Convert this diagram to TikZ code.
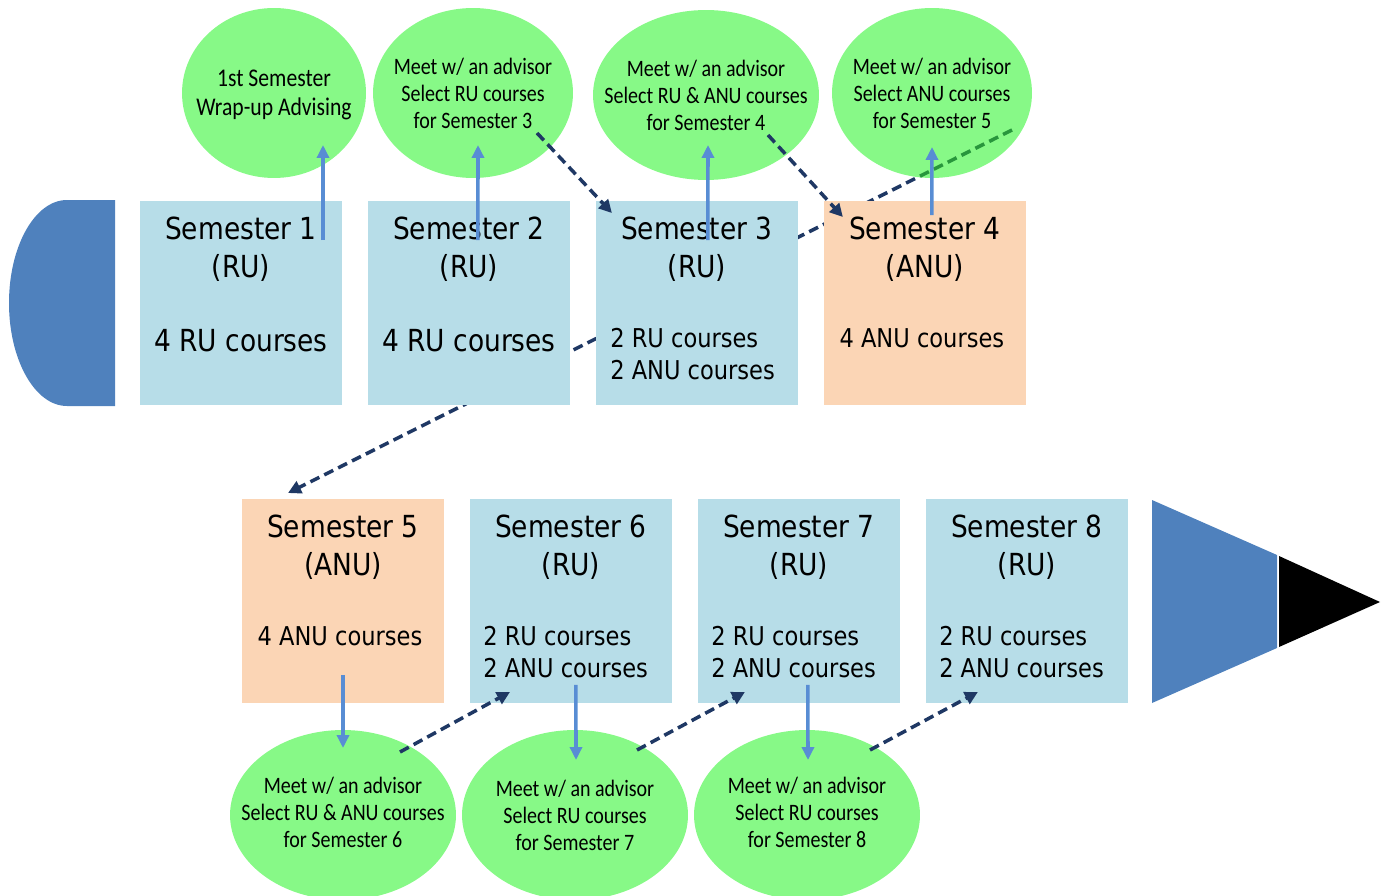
\documentclass[tikz,border=0pt]{standalone}
\usepackage{fontspec}
\newfontfamily\semfont[FakeStretch=0.87]{DejaVu Sans}
\newfontfamily\notefont[FakeStretch=0.85]{Carlito}
\usepackage{tikz}
\usetikzlibrary{shapes.geometric,arrows.meta,positioning,backgrounds,calc}
\usepackage{xcolor}

\definecolor{rublue}{HTML}{B7DDE8}
\definecolor{anuorange}{HTML}{FBD5B5}
\definecolor{advgreen}{RGB}{135,249,135}
\definecolor{ribbonblue}{HTML}{4F81BD}
\definecolor{flowblue}{RGB}{88,141,212}
\definecolor{stepnavy}{RGB}{31,56,100}
\definecolor{stepgreen}{RGB}{40,150,60}

\tikzset{
  semrect/.style={rectangle, minimum width=4.04cm, minimum height=4.08cm, inner sep=0pt, outer sep=0pt},
  rubox/.style={semrect, fill=rublue},
  anubox/.style={semrect, fill=anuorange},
  semtitle/.style={anchor=base, inner sep=0pt, font=\semfont\fontsize{17.3pt}{21pt}\selectfont},
  semcourse/.style={anchor=base, inner sep=0pt, font=\semfont\fontsize{14.75pt}{18pt}\selectfont},
  advising/.style={ellipse, fill=advgreen, inner sep=0pt, outer sep=0pt, minimum height=3.4cm},
  advtext/.style={inner sep=0pt, align=center, font=\notefont\fontsize{13.4pt}{15.4pt}\selectfont},
  upflow/.style={draw=flowblue, line width=2pt, -{Triangle[length=0.26cm, width=0.24cm]}},
  nextstep/.style={draw=stepnavy, line width=2pt, dash pattern=on 0.2cm off 0.11cm, -{Triangle[length=0.26cm, width=0.26cm]}},
}

\begin{document}
\begin{tikzpicture}[x=0.02cm, y=-0.02cm, node distance=0.52cm]
\useasboundingbox (0,0) rectangle (1391,895);

% tail and head of the pencil
\fill[ribbonblue] (115,200) -- (67,200) .. controls (35,200) and (9,246) .. (9,303)
  .. controls (9,360) and (35,406) .. (67,406) -- (115,406) -- cycle;
\fill[ribbonblue] (1152,500) -- (1277,555) -- (1277,648) -- (1152,703) -- cycle;
\fill[black] (1279,556) -- (1380,602) -- (1279,647) -- cycle;

% semesters, first row
\node[rubox] (sem1) at (241,303) {};
\node[rubox, right=of sem1] (sem2) {};
\node[rubox, right=of sem2] (sem3) {};
\node[anubox, right=of sem3] (sem4) {};

% semesters, second row
\node[anubox] (sem5) at (343,601) {};
\node[rubox, right=of sem5] (sem6) {};
\node[rubox, right=of sem6] (sem7) {};
\node[rubox, right=of sem7] (sem8) {};

\node[semtitle] (sem1a) at ([shift={(0,38)}]sem1.north) {Semester 1};
\node[semtitle] (sem1b) at ([shift={(0,76)}]sem1.north) {(RU)};
\node[semtitle] (sem1c) at ([shift={(0,150)}]sem1.north) {4 RU courses};

\node[semtitle] (sem2a) at ([shift={(0,38)}]sem2.north) {Semester 2};
\node[semtitle] (sem2b) at ([shift={(0,76)}]sem2.north) {(RU)};
\node[semtitle] (sem2c) at ([shift={(0,150)}]sem2.north) {4 RU courses};

\node[semtitle] (sem3a) at ([shift={(0,38)}]sem3.north) {Semester 3};
\node[semtitle] (sem3b) at ([shift={(0,76)}]sem3.north) {(RU)};
\node[semcourse, anchor=base west] (sem3c) at ([shift={(14,146)}]sem3.north west) {2 RU courses};
\node[semcourse, anchor=base west] (sem3d) at ([shift={(14,178)}]sem3.north west) {2 ANU courses};

\node[semtitle] (sem4a) at ([shift={(0,38)}]sem4.north) {Semester 4};
\node[semtitle] (sem4b) at ([shift={(0,76)}]sem4.north) {(ANU)};
\node[semcourse] (sem4c) at ([shift={(-3,146)}]sem4.north) {4 ANU courses};

\node[semtitle] (sem5a) at ([shift={(0,38)}]sem5.north) {Semester 5};
\node[semtitle] (sem5b) at ([shift={(0,76)}]sem5.north) {(ANU)};
\node[semcourse] (sem5c) at ([shift={(-3,146)}]sem5.north) {4 ANU courses};

\node[semtitle] (sem6a) at ([shift={(0,38)}]sem6.north) {Semester 6};
\node[semtitle] (sem6b) at ([shift={(0,76)}]sem6.north) {(RU)};
\node[semcourse, anchor=base west] (sem6c) at ([shift={(13,146)}]sem6.north west) {2 RU courses};
\node[semcourse, anchor=base west] (sem6d) at ([shift={(13,178)}]sem6.north west) {2 ANU courses};

\node[semtitle] (sem7a) at ([shift={(0,38)}]sem7.north) {Semester 7};
\node[semtitle] (sem7b) at ([shift={(0,76)}]sem7.north) {(RU)};
\node[semcourse, anchor=base west] (sem7c) at ([shift={(13,146)}]sem7.north west) {2 RU courses};
\node[semcourse, anchor=base west] (sem7d) at ([shift={(13,178)}]sem7.north west) {2 ANU courses};

\node[semtitle] (sem8a) at ([shift={(0,38)}]sem8.north) {Semester 8};
\node[semtitle] (sem8b) at ([shift={(0,76)}]sem8.north) {(RU)};
\node[semcourse, anchor=base west] (sem8c) at ([shift={(13,146)}]sem8.north west) {2 RU courses};
\node[semcourse, anchor=base west] (sem8d) at ([shift={(13,178)}]sem8.north west) {2 ANU courses};

% advising meetings
\node[advising, minimum width=3.68cm] (wrapup) at (274,93) {};
\node[advising, minimum width=4cm] (plan3) at (473,93) {};
\node[advising, minimum width=4.52cm] (plan4) at (706,95) {};
\node[advising, minimum width=4cm] (plan5) at (932,93) {};
\node[advising, minimum width=4.52cm] (plan6) at (343,815) {};
\node[advising, minimum width=4.52cm] (plan7) at (575,815) {};
\node[advising, minimum width=4.52cm] (plan8) at (807,815) {};

\node[advtext, font=\notefont\fontsize{14.5pt}{16.6pt}\selectfont] (wrapupt) at ([shift={(0,2)}]wrapup) {1st Semester\\Wrap-up Advising};
\node[advtext] (plan3t) at (plan3) {Meet w/ an advisor\\Select RU courses\\for Semester 3};
\node[advtext] (plan4t) at (plan4) {Meet w/ an advisor\\Select RU \& ANU courses\\for Semester 4};
\node[advtext] (plan5t) at (plan5) {Meet w/ an advisor\\Select ANU courses\\for Semester 5};
\node[advtext] (plan6t) at ([shift={(0,-3)}]plan6) {Meet w/ an advisor\\Select RU \& ANU courses\\for Semester 6};
\node[advtext] (plan7t) at (plan7) {Meet w/ an advisor\\Select RU courses\\for Semester 7};
\node[advtext] (plan8t) at ([shift={(0,-3)}]plan8) {Meet w/ an advisor\\Select RU courses\\for Semester 8};

% long step, behind the boxes
\begin{scope}[on background layer]
\draw[nextstep] ([shift={(80,37)}]plan5.center) -- ([shift={(46,-6)}]sem5.north west);
\end{scope}
\begin{scope}
\clip (plan5.center) ellipse [x radius=2cm, y radius=1.7cm];
\draw[nextstep, draw=stepgreen] ([shift={(80,37)}]plan5.center) -- ([shift={(46,-6)}]sem5.north west);
\end{scope}

% semester -> advising
\draw[upflow] ([shift={(82,39)}]sem1.north) -- ([shift={(49,-33)}]wrapup.south);
\draw[upflow] ([shift={(9,39)}]sem2.north) -- ([shift={(5,-33)}]plan3.south);
\draw[upflow] ([shift={(11,39)}]sem3.north) -- ([shift={(2,-35)}]plan4.south);
\draw[upflow] ([shift={(7,14)}]sem4.north) -- ([shift={(0,-31)}]plan5.south);
\draw[upflow] ([shift={(0,-28)}]sem5.south) -- ([shift={(0,18)}]plan6.north);
\draw[upflow] ([shift={(5,-18)}]sem6.south) -- ([shift={(1,30)}]plan7.north);
\draw[upflow] ([shift={(9,-18)}]sem7.south) -- ([shift={(1,30)}]plan8.north);

% advising -> next semester
\draw[nextstep] ([shift={(64,40)}]plan3.center) -- ([shift={(16,12)}]sem3.north west);
\draw[nextstep] ([shift={(62,40)}]plan4.center) -- ([shift={(19,16)}]sem4.north west);
\draw[nextstep] ([shift={(57,-63)}]plan6.center) -- ([shift={(40,-11)}]sem6.south west);
\draw[nextstep] ([shift={(62,-65)}]plan7.center) -- ([shift={(47,-11)}]sem7.south west);
\draw[nextstep] ([shift={(63,-65)}]plan8.center) -- ([shift={(52,-11)}]sem8.south west);

\end{tikzpicture}
\end{document}
